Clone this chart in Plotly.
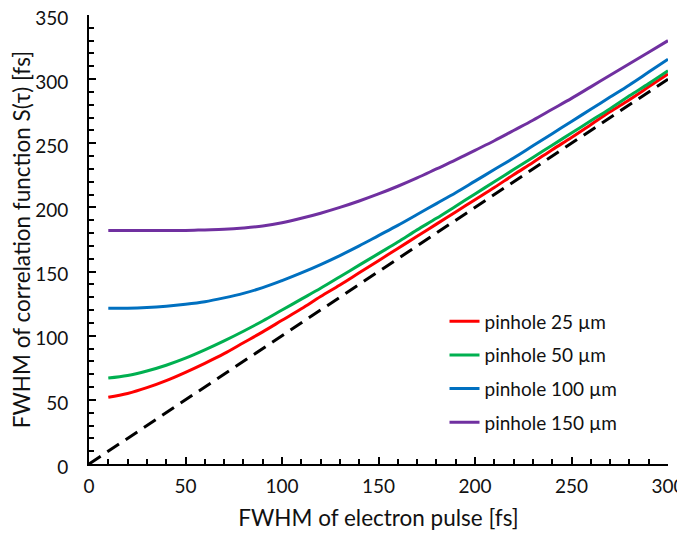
import plotly.graph_objects as go

x_pulse = [10, 20, 30, 40, 50, 60, 70, 80, 90, 100, 110, 120, 130, 140, 150,
           160, 170, 180, 190, 200, 210, 220, 230, 240, 250, 260, 270, 280, 290, 300]

s_25 = [52, 55, 59.5, 65, 71.5, 78.5, 86, 94.5, 103, 112, 121, 130.5, 139.5, 149, 158.5,
        168, 177.5, 187, 196.5, 206, 215.5, 225.5, 235, 245, 254.5, 264.5, 274.5, 284, 294, 304]
s_50 = [67, 69, 72.5, 77, 82.5, 89, 96, 103.5, 111.5, 120, 128.5, 137, 146, 155, 164,
        173, 182.5, 191.5, 201, 210.5, 220, 229.5, 239, 248.5, 258, 267.5, 277, 287, 296.5, 306.5]
s_100 = [121.5, 121.5, 122, 123, 124.5, 126.5, 129.5, 133, 137.5, 143, 149, 155.5, 162.5, 170, 178,
         186, 194.5, 203, 211.5, 220.5, 229.5, 238.5, 248, 257.5, 267, 276.5, 286, 295.5, 305.5, 315.5]
s_150 = [182, 182, 182, 182, 182, 182.5, 183, 184, 185.5, 188, 191.5, 195.5, 200, 205, 210.5,
         216.5, 223, 230, 237, 244.5, 252, 260, 268, 276.5, 285, 294, 303, 312, 321, 330]

ref_x = [0, 300]
ref_y = [0, 300]

names = ["pinhole 25 µm", "pinhole 50 µm", "pinhole 100 µm", "pinhole 150 µm"]
colors = ["#FF0000", "#00B050", "#0070C0", "#7030A0"]
series = [s_25, s_50, s_100, s_150]

FONT = "Lato"
TXT = "#111111"

fig = go.Figure()
fig.add_trace(go.Scatter(x=ref_x, y=ref_y, mode="lines",
                         line=dict(color="black", width=3, dash="14px,8px"),
                         showlegend=False, hoverinfo="skip"))
for i, (n, c, s) in enumerate(zip(names, colors, series)):
    fig.add_trace(go.Scatter(x=x_pulse, y=s, mode="lines", name=n,
                             legendgroup=str(i),
                             line=dict(color=c, width=3, shape="spline", smoothing=1.0)))

axis_common = dict(
    showline=True, linecolor="black", linewidth=2,
    showgrid=False, zeroline=False,
    ticks="inside", ticklen=7, tickwidth=2, tickcolor="black",
    tickfont=dict(family=FONT, size=19, color=TXT),
    mirror=False, automargin=False, ticklabeloverflow="allow",
)

fig.update_xaxes(range=[0, 300], tickvals=[0, 50, 100, 150, 200, 250, 300],
                 minor=dict(dtick=10, ticks="inside", ticklen=5, tickwidth=1.5, tickcolor="black"),
                 title=dict(text="FWHM of electron pulse [fs]", font=dict(family=FONT, size=22.5, color=TXT), standoff=14),
                 ticklabelstandoff=4,
                 **axis_common)
fig.update_yaxes(range=[0, 350], tickvals=[0, 50, 100, 150, 200, 250, 300, 350],
                 minor=dict(dtick=10, ticks="inside", ticklen=5, tickwidth=1.5, tickcolor="black"),
                 title=dict(text="FWHM of correlation function S(τ) [fs]", font=dict(family=FONT, size=22.5, color=TXT)),
                 ticklabelstandoff=15, ticklabelshift=3,
                 **axis_common)

# the page body has an 8px default margin; size the figure to fit the 685x544 window
fig.update_layout(
    width=677, height=536,
    margin=dict(l=81, r=17, t=7, b=80),
    plot_bgcolor="white", paper_bgcolor="white",
    legend=dict(x=0.614, y=0.36, xanchor="left", yanchor="top",
                font=dict(family=FONT, size=19, color=TXT),
                bgcolor="rgba(0,0,0,0)", tracegroupgap=6,
                itemwidth=30),
    showlegend=True,
)

fig.write_html("out.html")
